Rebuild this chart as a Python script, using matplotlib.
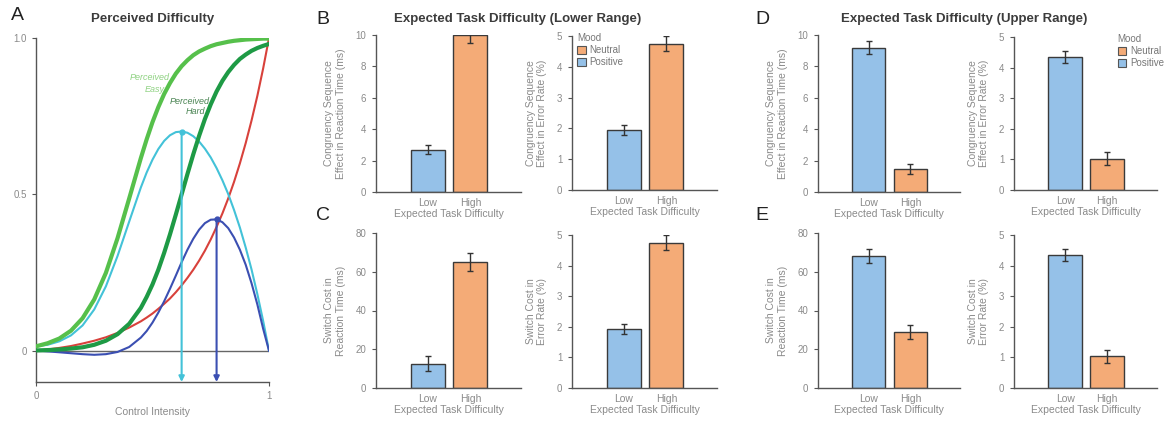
import matplotlib.pyplot as plt
from matplotlib.patches import Patch

plt.rcParams['font.family'] = ['Liberation Sans', 'DejaVu Sans']

# --- Panel A: curves (x = control intensity) ---
ctrl_x = [0.00, 0.05, 0.10, 0.15, 0.20, 0.25, 0.30, 0.35, 0.40, 0.45,
          0.475, 0.50, 0.525, 0.55, 0.575, 0.60, 0.625, 0.65, 0.675, 0.70,
          0.725, 0.75, 0.775, 0.80, 0.825, 0.85, 0.875, 0.90, 0.925, 0.95,
          0.975, 1.00]
easy_curve = [0.014, 0.024, 0.039, 0.064, 0.104, 0.164, 0.249, 0.360, 0.487, 0.616,
              0.676, 0.731, 0.779, 0.821, 0.856, 0.886, 0.910, 0.929, 0.945, 0.957,
              0.966, 0.974, 0.980, 0.984, 0.988, 0.991, 0.993, 0.995, 0.996, 0.997,
              0.998, 0.998]
hard_curve = [0.001, 0.002, 0.004, 0.007, 0.011, 0.019, 0.032, 0.053, 0.086, 0.137,
              0.172, 0.212, 0.259, 0.313, 0.372, 0.435, 0.500, 0.565, 0.628, 0.687,
              0.741, 0.788, 0.829, 0.863, 0.891, 0.914, 0.933, 0.947, 0.959, 0.968,
              0.975, 0.981]
cost_curve = [0.000, 0.004, 0.009, 0.015, 0.023, 0.032, 0.043, 0.057, 0.074, 0.094,
              0.106, 0.119, 0.134, 0.150, 0.167, 0.187, 0.209, 0.233, 0.259, 0.288,
              0.320, 0.356, 0.396, 0.439, 0.487, 0.540, 0.599, 0.664, 0.736, 0.815,
              0.903, 1.000]
evc_easy = [0.014, 0.019, 0.030, 0.049, 0.081, 0.132, 0.206, 0.303, 0.413, 0.522,
            0.570, 0.611, 0.645, 0.671, 0.689, 0.699, 0.701, 0.697, 0.686, 0.669,
            0.646, 0.618, 0.584, 0.545, 0.501, 0.450, 0.394, 0.330, 0.260, 0.181,
            0.095, 0.000]
evc_hard = [0.001, -0.002, -0.005, -0.008, -0.011, -0.013, -0.011, -0.004, 0.012, 0.042,
            0.063, 0.090, 0.122, 0.158, 0.198, 0.240, 0.283, 0.323, 0.358, 0.387,
            0.408, 0.419, 0.420, 0.411, 0.392, 0.362, 0.323, 0.275, 0.216, 0.148,
            0.070, 0.000]

# --- Bar panels: Low (positive mood) vs High (neutral mood) ---
difficulty = ["Low", "High"]
cse_rt_lower = [2.7, 10.0]
cse_rt_lower_err = [0.27, 0.5]
cse_er_lower = [1.94, 4.75]
cse_er_lower_err = [0.16, 0.25]
sw_rt_lower = [12.6, 65.0]
sw_rt_lower_err = [3.9, 4.5]
sw_er_lower = [1.94, 4.75]
sw_er_lower_err = [0.16, 0.24]

cse_rt_upper = [9.2, 1.47]
cse_rt_upper_err = [0.42, 0.34]
cse_er_upper = [4.35, 1.02]
cse_er_upper_err = [0.2, 0.21]
sw_rt_upper = [68.0, 28.9]
sw_rt_upper_err = [3.6, 3.4]
sw_er_upper = [4.35, 1.03]
sw_er_upper_err = [0.2, 0.2]

BLUE = "#95c1e8"
ORANGE = "#f4ab77"
GREY_TXT = "#8a8a8a"
SPINE = "#555555"

W, H = 1168, 422
fig = plt.figure(figsize=(11.68, 4.22), dpi=100)


def px_axes(x0, y0, x1, y1):
    # pixel box (top-left origin) -> figure axes
    return fig.add_axes([x0 / W, 1 - y1 / H, (x1 - x0) / W, (y1 - y0) / H])


def style_bar_axes(ax, ymax, step):
    for s in ["top", "right"]:
        ax.spines[s].set_visible(False)
    for s in ["left", "bottom"]:
        ax.spines[s].set_color(SPINE)
        ax.spines[s].set_linewidth(1.0)
    ax.set_ylim(0, ymax)
    ax.spines["left"].set_bounds(0, ymax)
    ax.set_yticks(range(0, ymax + 1, step))
    ax.tick_params(axis="y", direction="out", length=3, width=0.8, colors=SPINE,
                   labelsize=7, labelcolor=GREY_TXT, pad=4)
    ax.tick_params(axis="x", length=0, labelsize=7.5, labelcolor=GREY_TXT, pad=4)
    ax.set_xlim(-1.22, 2.19)


def bar_panel(ax, vals, errs, ymax, step, ylabel):
    ax.bar([0, 1], vals, width=0.8, color=[BLUE, ORANGE], edgecolor="#3a3a3a",
           linewidth=1.0, zorder=2)
    ax.errorbar([0, 1], vals, yerr=errs, fmt="none", ecolor="#333333",
                elinewidth=1.0, capsize=2.5, capthick=1.0, zorder=3)
    style_bar_axes(ax, ymax, step)
    ax.set_xticks([0, 1])
    ax.set_xticklabels(difficulty)
    ax.set_xlabel("Expected Task Difficulty", fontsize=7.5, color=GREY_TXT, labelpad=1)
    ax.set_ylabel(ylabel, fontsize=7.5, color=GREY_TXT, labelpad=7, linespacing=1.2)


def mood_legend(ax, x):
    handles = [Patch(facecolor=ORANGE, edgecolor="#555555", linewidth=0.8, label="Neutral"),
               Patch(facecolor=BLUE, edgecolor="#555555", linewidth=0.8, label="Positive")]
    leg = ax.legend(handles=handles, title="Mood", loc="upper left",
                    bbox_to_anchor=(x, 1.05), frameon=False, fontsize=7,
                    title_fontsize=7, handlelength=0.9, handleheight=0.9,
                    handletextpad=0.4, labelspacing=0.2, borderpad=0,
                    alignment="left")
    for t in leg.get_texts():
        t.set_color("#777777")
    leg.get_title().set_color("#777777")


# --- Panel A ---
axA = px_axes(36, 38, 269, 382)
axA.plot(ctrl_x, cost_curve, color="#d8413b", lw=1.5, zorder=2)
axA.plot(ctrl_x, evc_easy, color="#43c2d8", lw=1.5, zorder=3)
axA.plot(ctrl_x, evc_hard, color="#3b4fb2", lw=1.5, zorder=3)
axA.plot(ctrl_x, hard_curve, color="#1e9a45", lw=3.0, zorder=4)
axA.plot(ctrl_x, easy_curve, color="#56c04b", lw=3.0, zorder=4)
axA.axhline(0, color="#666666", lw=1.0, zorder=1)

for curve, col in [(evc_easy, "#43c2d8"), (evc_hard, "#3b4fb2")]:
    i = curve.index(max(curve))
    px, py = ctrl_x[i], curve[i]
    axA.plot([px], [py], "o", color=col, ms=3.5, zorder=5)
    axA.annotate("", xy=(px, -0.1), xytext=(px, py),
                 arrowprops=dict(arrowstyle="-|>", color=col, lw=1.5,
                                 mutation_scale=8, shrinkA=0, shrinkB=0), zorder=5)

axA.text(0.572, 0.874, "Perceived", color="#8fd282", fontsize=6.5, style="italic",
         ha="right", va="center", zorder=6)
axA.text(0.552, 0.836, "Easy", color="#8fd282", fontsize=6.5, style="italic",
         ha="right", va="center", zorder=6)
axA.text(0.745, 0.798, "Perceived", color="#4a8453", fontsize=6.5, style="italic",
         ha="right", va="center", zorder=6)
axA.text(0.725, 0.764, "Hard", color="#4a8453", fontsize=6.5, style="italic",
         ha="right", va="center", zorder=6)

axA.set_xlim(0, 1)
axA.set_ylim(-0.1, 1.0)
for s in ["top", "right"]:
    axA.spines[s].set_visible(False)
for s in ["left", "bottom"]:
    axA.spines[s].set_color(SPINE)
    axA.spines[s].set_linewidth(1.0)
axA.set_yticks([0, 0.5, 1.0])
axA.set_yticklabels(["0", "0.5", "1.0"])
axA.set_xticks([0, 1])
axA.set_xticklabels(["0", "1"])
axA.tick_params(direction="out", length=3, width=0.8, colors=SPINE,
                labelsize=7, labelcolor=GREY_TXT)
axA.set_xlabel("Control Intensity", fontsize=7.5, color=GREY_TXT, labelpad=4)

# --- Panels B-E ---
axB1 = px_axes(376, 35, 521, 192)
bar_panel(axB1, cse_rt_lower, cse_rt_lower_err, 10, 2,
          "Congruency Sequence\nEffect in Reaction Time (ms)")
axB2 = px_axes(572, 36, 717, 190)
bar_panel(axB2, cse_er_lower, cse_er_lower_err, 5, 1,
          "Congruency Sequence\nEffect in Error Rate (%)")
mood_legend(axB2, 0.0)

axC1 = px_axes(376, 233, 521, 388)
bar_panel(axC1, sw_rt_lower, sw_rt_lower_err, 80, 20,
          "Switch Cost in\nReaction Time (ms)")
axC2 = px_axes(572, 235, 717, 388)
bar_panel(axC2, sw_er_lower, sw_er_lower_err, 5, 1,
          "Switch Cost in\nError Rate (%)")

axD1 = px_axes(818, 35, 960, 192)
bar_panel(axD1, cse_rt_upper, cse_rt_upper_err, 10, 2,
          "Congruency Sequence\nEffect in Reaction Time (ms)")
axD2 = px_axes(1014, 37, 1157, 190)
bar_panel(axD2, cse_er_upper, cse_er_upper_err, 5, 1,
          "Congruency Sequence\nEffect in Error Rate (%)")
mood_legend(axD2, 0.69)

axE1 = px_axes(818, 233, 960, 388)
bar_panel(axE1, sw_rt_upper, sw_rt_upper_err, 80, 20,
          "Switch Cost in\nReaction Time (ms)")
axE2 = px_axes(1014, 235, 1157, 388)
bar_panel(axE2, sw_er_upper, sw_er_upper_err, 5, 1,
          "Switch Cost in\nError Rate (%)")

# --- Titles and panel letters ---
fig.text(153 / W, 1 - 19 / H, "Perceived Difficulty", fontsize=9.5, fontweight="bold",
         color="#3c3c3c", ha="center", va="center")
fig.text(518 / W, 1 - 19 / H, "Expected Task Difficulty (Lower Range)", fontsize=9.5,
         fontweight="bold", color="#3c3c3c", ha="center", va="center")
fig.text(964 / W, 1 - 19 / H, "Expected Task Difficulty (Upper Range)", fontsize=9.5,
         fontweight="bold", color="#3c3c3c", ha="center", va="center")
for letter, x, y in [("A", 11, 16), ("B", 316, 19), ("C", 316, 216),
                     ("D", 755, 19), ("E", 755, 216)]:
    fig.text(x / W, 1 - y / H, letter, fontsize=14, color="#222222",
             ha="left", va="center")

fig.savefig("out.png", dpi=100)
